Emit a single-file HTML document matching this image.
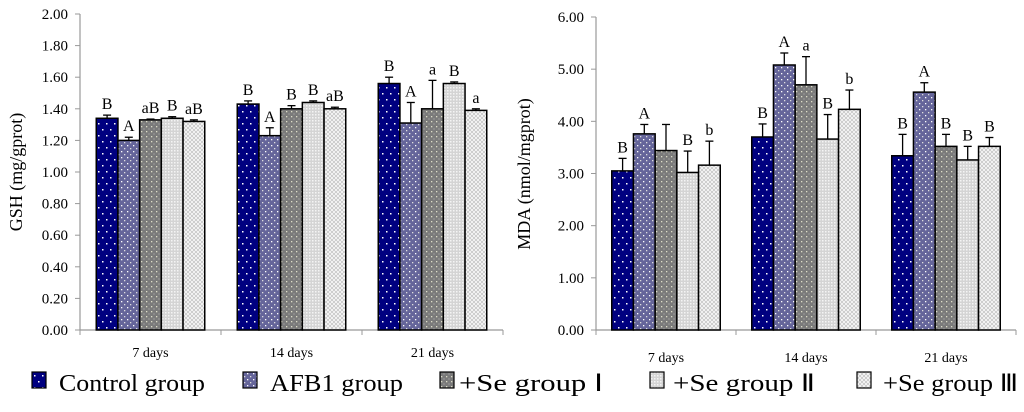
<!DOCTYPE html>
<html><head><meta charset="utf-8"><style>
body{margin:0;background:#fff;width:1024px;height:407px;overflow:hidden}
text{font-family:"Liberation Serif","Times New Roman",serif;fill:#000}
</style></head><body>
<svg id="svg" width="1024" height="407" xmlns="http://www.w3.org/2000/svg">
<defs>
<pattern id="p0" width="8" height="12" patternUnits="userSpaceOnUse"><rect width="8" height="12" fill="#000080"/><rect x="2" y="3" width="1.5" height="1.5" fill="#fff"/><rect x="6" y="9" width="1.5" height="1.5" fill="#fff"/></pattern>
<pattern id="p1" width="6" height="6" patternUnits="userSpaceOnUse"><rect width="6" height="6" fill="#65659a"/><rect x="1" y="1" width="1.3" height="1.3" fill="#fff"/><rect x="4" y="4" width="1.3" height="1.3" fill="#ddd"/></pattern>
<pattern id="p2" width="5" height="5" patternUnits="userSpaceOnUse"><rect width="5" height="5" fill="#7a7a7a"/><rect x="1" y="1" width="1.3" height="1.3" fill="#dedec8"/><rect x="3.5" y="3.5" width="1" height="1" fill="#bbb"/></pattern>
<pattern id="p3" width="3" height="3" patternUnits="userSpaceOnUse"><rect width="3" height="3" fill="#d4d4d4"/><rect x="0" y="0" width="1.5" height="1.5" fill="#f4f4f4"/></pattern>
<pattern id="p4" width="4" height="4" patternUnits="userSpaceOnUse"><rect width="4" height="4" fill="#f6f6f6"/><path d="M0 0L4 4M4 0L0 4" stroke="#b8b8b8" stroke-width="0.6"/></pattern>
</defs>
<g id="left"></g><g id="right"></g>
<text x="22" y="172" font-size="18" transform="rotate(-90 22 172)" text-anchor="middle">GSH (mg/gprot)</text>
<text x="530" y="174" font-size="18" transform="rotate(-90 530 174)" text-anchor="middle">MDA (nmol/mgprot)</text>
<g id="legend"></g>
</svg>
<script>
const categories=["7 days","14 days","21 days"];
const gshValues=[[1.34,1.20,1.33,1.34,1.32],[1.43,1.23,1.40,1.44,1.40],[1.56,1.31,1.40,1.56,1.39]];
const gshErrors=[[0.02,0.02,0.005,0.01,0.01],[0.02,0.05,0.02,0.01,0.01],[0.04,0.13,0.18,0.01,0.01]];
const gshLetters=[["B","A","aB","B","aB"],["B","A","B","B","aB"],["B","A","a","B","a"]];
const gshTicks=["0.00","0.20","0.40","0.60","0.80","1.00","1.20","1.40","1.60","1.80","2.00"];
const mdaValues=[[3.05,3.76,3.44,3.02,3.16],[3.70,5.08,4.70,3.66,4.23],[3.34,4.56,3.52,3.26,3.52]];
const mdaErrors=[[0.24,0.18,0.50,0.41,0.46],[0.25,0.23,0.54,0.47,0.37],[0.41,0.18,0.23,0.26,0.17]];
const mdaLetters=[["B","A","","B","b"],["B","A","a","B","b"],["B","A","B","B","B"]];
const mdaTicks=["0.00","1.00","2.00","3.00","4.00","5.00","6.00"];
const seriesNames=["Control group","AFB1 group","+Se group Ⅰ","+Se group Ⅱ","+Se group Ⅲ"];
const NS="http://www.w3.org/2000/svg";
function mk(p,tag,at){const e=document.createElementNS(NS,tag);for(const k in at)e.setAttribute(k,at[k]);p.appendChild(e);return e;}
function chart(g,cfg){
  const {x0,x1,y0,y1,max,vals,errs,lets,ticks,catY,name}=cfg;
  const ys=v=>y0-(v/max)*(y0-y1);
  const cw=(x1-x0)/categories.length, bw=21.7;
  mk(g,'line',{x1:x0,y1:y1,x2:x0,y2:y0,stroke:'#999','stroke-width':1.2});
  mk(g,'line',{x1:x0,y1:y0,x2:x1,y2:y0,stroke:'#999','stroke-width':1.2});
  ticks.forEach((t,i)=>{const v=max*i/(ticks.length-1),y=ys(v);
    mk(g,'line',{x1:x0-5,y1:y,x2:x0,y2:y,stroke:'#999'});
    const tx=mk(g,'text',{x:x0-12,y:y+5,'font-size':15,'text-anchor':'end'});tx.textContent=t;
    
    });
  for(let c=0;c<=categories.length;c++){mk(g,'line',{x1:x0+c*cw,y1:y0,x2:x0+c*cw,y2:y0+5,stroke:'#999'});}
  categories.forEach((cat,c)=>{
    const cx=x0+cw*(c+0.5);
    const tl=mk(g,'text',{x:cx,y:catY,'font-size':14,'text-anchor':'middle'});tl.textContent=cat;
    
    
    vals[c].forEach((v,s)=>{
      const bx=cx-2.5*bw+s*bw, top=ys(v), et=ys(v+errs[c][s]);
      const r=mk(g,'rect',{x:bx,y:top,width:bw,height:y0-top,fill:'url(#p'+s+')',stroke:'#000','stroke-width':1.5});
      
      
      const m=bx+bw/2;
      mk(g,'line',{x1:m,y1:top,x2:m,y2:et,stroke:'#000','stroke-width':1.3});
      mk(g,'line',{x1:m-4,y1:et,x2:m+4,y2:et,stroke:'#000','stroke-width':1.3});
      if(lets[c][s]){const lt=mk(g,'text',{x:m,y:et-6,'font-size':16,'text-anchor':'middle'});lt.textContent=lets[c][s];
        
        }
    });
  });
}
chart(document.getElementById('left'),{x0:80,x1:503,y0:330,y1:14,max:2,vals:gshValues,errs:gshErrors,lets:gshLetters,ticks:gshTicks,catY:357,name:'gsh'});
chart(document.getElementById('right'),{x0:596,x1:1016,y0:330,y1:17,max:6,vals:mdaValues,errs:mdaErrors,lets:mdaLetters,ticks:mdaTicks,catY:362,name:'mda'});
const lg=document.getElementById('legend');
const lx=[32,243,440,650,857];
const tx=[59,270,459,673,883];
const tw=[146,133,144,142,135];
seriesNames.forEach((n,i)=>{
  const r=mk(lg,'rect',{x:lx[i],y:372,width:14,height:16,fill:'url(#p'+i+')',stroke:'#000','stroke-width':1.2});
  
  
  const t=mk(lg,'text',{x:tx[i],y:391,'font-size':24,textLength:tw[i],lengthAdjust:'spacingAndGlyphs'});t.textContent=n;
  
  
});
</script>
</body></html>
